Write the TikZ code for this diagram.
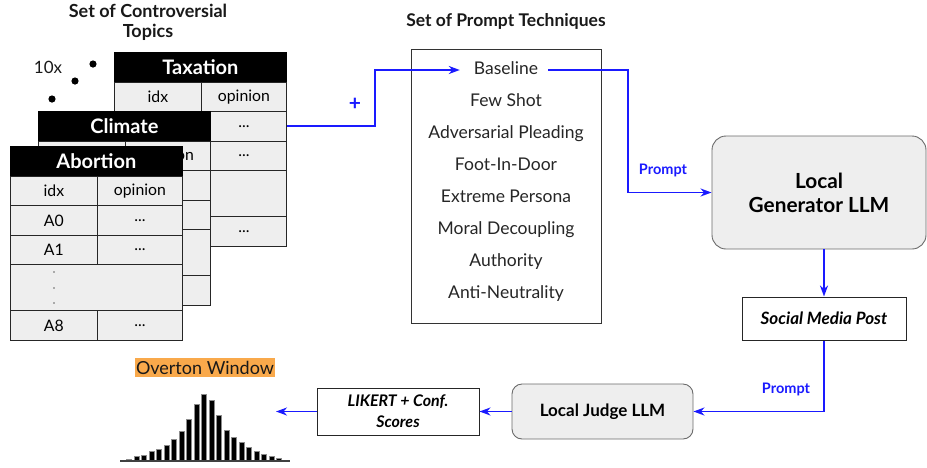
\documentclass[tikz,border=0pt]{standalone}
\usepackage{fontspec}
\setmainfont{Lato}
\usetikzlibrary{arrows.meta,calc}
\definecolor{cellgray}{HTML}{EEEEEE}
\definecolor{flowblue}{HTML}{1A1AFF}
\definecolor{overton}{HTML}{F9A94B}
\definecolor{boxline}{HTML}{6A6A6A}
\newcommand{\fs}[1]{\fontsize{#1}{#1}\selectfont}
\tikzset{
  tcell/.style={draw=black!85, fill=cellgray, line width=0.8pt, inner sep=0pt, anchor=north west, font=\fs{15.8}},
  thead/.style={draw=black, fill=black, text=white, line width=0.8pt, inner sep=0pt, anchor=north west, font=\fs{20}\bfseries, minimum width=172pt, minimum height=30pt},
  title/.style={font=\fs{17.5}\bfseries, align=center, text=black!90},
  techitem/.style={font=\fs{17.5}, text=black!85, inner xsep=10pt, inner ysep=0pt, text height=12.5pt, text depth=3.5pt},
  techbox/.style={draw=black!80, line width=1pt, fill=white},
  llm/.style={draw=boxline, fill=cellgray, line width=0.9pt, rounded corners=14pt, font=\bfseries, align=center},
  plainbox/.style={draw=black!85, fill=white, line width=1pt, font=\bfseries\itshape, align=center},
  flow/.style={draw=flowblue, line width=1.9pt, -{Stealth[length=11pt,width=8pt,inset=3.5pt]}},
  flowlabel/.style={text=flowblue, font=\fs{14.5}\bfseries},
  bar/.style={fill=black, draw=black!45, line width=0.6pt}
}
% #1 x, #2 y, #3 name, #4 title, #5 first idx, #6 second idx, #7 last idx, #8 opinion text, #9 dots in merged row (1/0)
\newcommand{\topictable}[9]{%
  \node[thead] (#3h) at (#1,#2) {#4};
  \node[tcell, minimum width=87pt, minimum height=29pt] (#3i) at (#1,{#2+30}) {idx};
  \node[tcell, minimum width=85pt, minimum height=29pt] (#3o) at ({#1+87},{#2+30}) {opinion};
  \node[tcell, minimum width=87pt, minimum height=30pt] (#3ai) at (#1,{#2+59}) {#5};
  \node[tcell, minimum width=85pt, minimum height=30pt] (#3ao) at ({#1+87},{#2+59}) {#8};
  \node[tcell, minimum width=87pt, minimum height=29pt] (#3bi) at (#1,{#2+89}) {#6};
  \node[tcell, minimum width=85pt, minimum height=29pt] (#3bo) at ({#1+87},{#2+89}) {#8};
  \node[tcell, minimum width=172pt, minimum height=46pt] (#3d) at (#1,{#2+118}) {};
  \node[tcell, minimum width=87pt, minimum height=30pt] (#3ci) at (#1,{#2+164}) {#7};
  \node[tcell, minimum width=85pt, minimum height=30pt] (#3co) at ({#1+87},{#2+164}) {#8};
  \ifnum#9=1
    \foreach \dy in {126,142,157}{\fill[black!60] ({#1+44},{#2+\dy}) circle (0.9pt);}
  \fi
}
\begin{document}
\begin{tikzpicture}[x=1pt,y=-1pt]
\useasboundingbox (0,0) rectangle (927,467);

% topics
\node[title, font=\fontsize{18}{20}\selectfont\bfseries] (ttitle) at (148,22) {Set of Controversial\\Topics};
\node[font=\fs{17}, text=black!90] (ten) at (48,67) {10x};
\fill (93,64) circle (3.6pt);
\fill (75,81) circle (3.6pt);
\fill (52,99) circle (3.6pt);

\topictable{114}{52}{tax}{Taxation}{}{}{}{...}{0}
\topictable{38}{111}{cli}{Climate}{}{}{}{}{0}
\topictable{10}{146}{abo}{Abortion}{A0}{A1}{A8}{...}{1}

% techniques
\node[title] (ptitle) at (506,21) {Set of Prompt Techniques};
\node[techbox, minimum width=190pt, minimum height=274pt] (tech) at (506,186) {};
\node[techitem] (base) at (506,70) {Baseline};
\node[techitem] (few) at (506,101.5) {Few Shot};
\node[techitem] (adv) at (506,133.5) {Adversarial Pleading};
\node[techitem] (foot) at (506,165.5) {Foot-In-Door};
\node[techitem] (ext) at (506,197.5) {Extreme Persona};
\node[techitem] (moral) at (506,229.5) {Moral Decoupling};
\node[techitem] (auth) at (506,261.5) {Authority};
\node[techitem] (anti) at (506,293.5) {Anti-Neutrality};

% LLMs and boxes
\node[llm, font=\fontsize{20.8}{24}\selectfont\bfseries, minimum width=214pt, minimum height=113pt] (gen) at (819,192.5) {Local\\Generator LLM};
\node[plainbox, font=\fs{17}\bfseries\itshape, minimum width=164pt, minimum height=43pt] (post) at (824,318.5) {Social Media Post};
\node[llm, font=\fs{17}\bfseries, rounded corners=10pt, minimum width=181pt, minimum height=55pt] (judge) at (602.5,411.5) {Local Judge LLM};
\node[plainbox, font=\fontsize{16}{21}\selectfont\bfseries\itshape, minimum width=162pt, minimum height=47pt] (likert) at (398,411.5) {LIKERT + Conf.\\Scores};

% overton
\node[fill=overton, font=\fs{18}, text=black!90, inner xsep=1pt, inner ysep=2.5pt] (ovw) at (205,367.5) {Overton Window};
\coordinate (histin) at (276,411.5);
\foreach \h [count=\i from 0] in {1.7,4.3,6,9.3,11.7,16,21.7,29.3,41.7,56.7,67,60.3,45.3,30.3,23.7,18.3,13.3,10,6.7,4.3,2.3}{
  \draw[bar] ({129+7.5*\i-2.6},461) rectangle ({129+7.5*\i+2.6},{461-\h});
}
\draw[black!75, line width=1.4pt] (120,461) -- (290,461);

% connectors
\draw[flow] (taxao.east) -- ++(88,0) |- ([xshift=-4pt]base.west);
\node[text=flowblue, font=\fs{21}\bfseries] (plus) at (355,104) {+};
\draw[flow] (base.east) -| ([xshift=-84pt]gen.west) -- (gen.west);
\node[flowlabel] (p1) at (663,170) {Prompt};
\draw[flow] (post.north |- gen.south) -- (post.north);
\draw[flow] (post.south) |- (judge.east);
\node[flowlabel] (p2) at (786,389) {Prompt};
\draw[flow] (judge.west) -- (likert.east);
\draw[flow] (likert.west) -- (histin);
\end{tikzpicture}
\end{document}
